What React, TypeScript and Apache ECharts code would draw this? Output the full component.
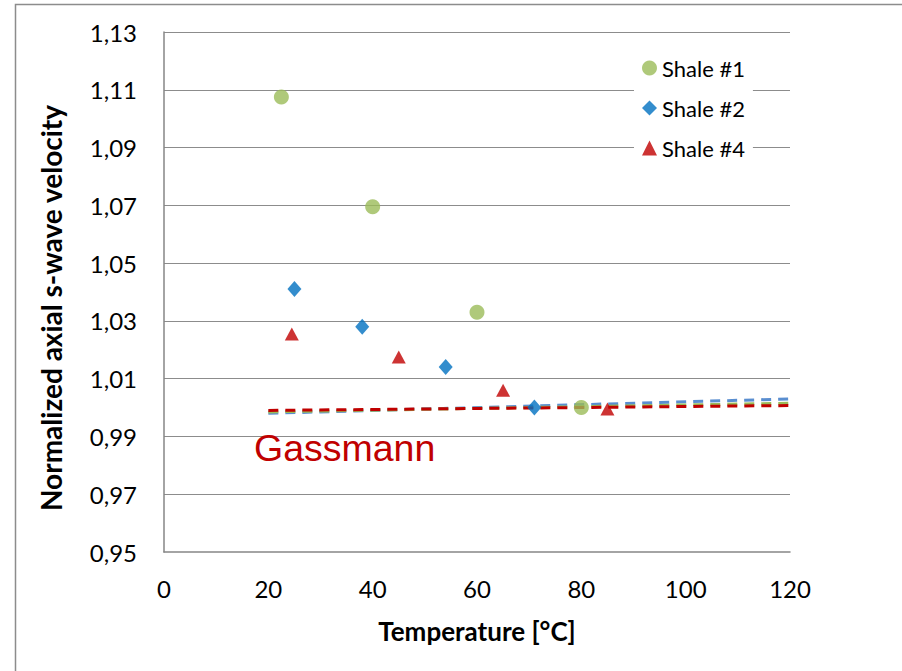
import React, { useEffect, useRef } from "react";
import * as echarts from "echarts";

const shale1X = [22.5, 40, 60, 80];
const shale1Y = [1.1075, 1.0695, 1.033, 1.0];
const shale2X = [25, 38, 54, 71];
const shale2Y = [1.041, 1.028, 1.014, 1.0];
const shale4X = [24.5, 45, 65, 85];
const shale4Y = [1.0255, 1.0175, 1.006, 0.9995];

const gassX = [20, 120];
const gassBlue = [0.998, 1.003];
const gassGreen = [0.9985, 1.0015];
const gassRed = [0.999, 1.0007];

const yTicks = [0.95, 0.97, 0.99, 1.01, 1.03, 1.05, 1.07, 1.09, 1.11, 1.13];

const zip = (xs: number[], ys: number[]) => xs.map((x, i) => [x, ys[i]]);

export default function App() {
  const ref = useRef<HTMLDivElement>(null);
  useEffect(() => {
    document.body.style.margin = "0";
    const chart = echarts.init(ref.current!, null, { renderer: "svg" });
    const font = "Lato, 'Open Sans', sans-serif";
    const dashed = (name: string, ys: number[], color: string, extra: any = {}) => ({
      name,
      type: "line",
      data: zip(gassX, ys),
      symbol: "none",
      lineStyle: { color, width: 3, type: [10, 7] },
      silent: true,
      z: 1,
      ...extra,
    });
    chart.setOption({
      animation: false,
      backgroundColor: "#fff",
      grid: { left: 164, top: 32, width: 626, height: 520 },
      graphic: [
        {
          type: "rect",
          shape: { x: 15.5, y: 4.5, width: 1000, height: 1000 },
          style: { fill: "none", stroke: "#8c8c8c", lineWidth: 1.5 },
          silent: true,
        },
        {
          type: "text",
          x: 254,
          y: 429,
          style: {
            text: "Gassmann",
            fontFamily: "'Liberation Sans', Arial, sans-serif",
            fontSize: 37.5,
            fill: "#c00000",
          },
          z: 10,
        },
      ],
      legend: {
        data: ["Shale #1", "Shale #2", "Shale #4"],
        orient: "vertical",
        left: 634,
        top: 48,
        padding: [8, 8, 8, 8],
        itemGap: 16,
        itemWidth: 15,
        itemHeight: 15,
        backgroundColor: "#fff",
        textStyle: { fontFamily: font, fontSize: 22, color: "#000", lineHeight: 24 },
      },
      xAxis: {
        type: "value",
        min: 0,
        max: 120,
        interval: 20,
        name: "Temperature [°C]",
        nameLocation: "middle",
        nameGap: 66,
        nameTextStyle: { fontFamily: font, fontSize: 26, fontWeight: "bold", color: "#000", verticalAlign: "top" },
        axisLine: { show: true, lineStyle: { color: "#868686", width: 1.5 } },
        axisTick: { show: false },
        splitLine: { show: false },
        axisLabel: { fontFamily: font, fontSize: 24, color: "#000", margin: 24 },
      },
      yAxis: {
        type: "value",
        min: 0.95,
        max: 1.13,
        interval: 0.01,
        name: "Normalized axial s-wave velocity",
        nameLocation: "middle",
        nameGap: 99,
        nameTextStyle: {
          fontFamily: font,
          fontSize: 28,
          fontWeight: "bold",
          color: "#000",
          padding: [0, 32, 0, 0],
        },
        axisLine: { show: true, lineStyle: { color: "#868686", width: 1.5 } },
        axisTick: { show: false },
        splitLine: { show: false },
        axisLabel: {
          fontFamily: font,
          fontSize: 24,
          color: "#000",
          margin: 27,
          formatter: (v: number) => {
            const k = Math.round(v * 100);
            return k % 2 === 1 ? (k / 100).toFixed(2).replace(".", ",") : "";
          },
        },
      },
      series: [
        dashed("g-blue", gassBlue, "#5a8ed0", {
          markLine: {
            silent: true,
            symbol: "none",
            label: { show: false },
            lineStyle: { color: "#8c8c8c", width: 1, type: "solid" },
            data: yTicks.slice(1).map((v) => ({ yAxis: v })),
            z: 0,
          },
        }),
        dashed("g-green", gassGreen, "#9bbb59"),
        dashed("g-red", gassRed, "#c00000"),
        {
          name: "Shale #1",
          type: "scatter",
          data: zip(shale1X, shale1Y),
          symbol: "circle",
          symbolSize: 15,
          itemStyle: { color: "#9bbb59" },
          z: 3,
        },
        {
          name: "Shale #2",
          type: "scatter",
          data: zip(shale2X, shale2Y),
          symbol: "diamond",
          symbolSize: [14, 16],
          itemStyle: { color: "#0070c0" },
          z: 3,
        },
        {
          name: "Shale #4",
          type: "scatter",
          data: zip(shale4X, shale4Y),
          symbol: "triangle",
          symbolSize: [14, 13],
          itemStyle: { color: "#c00000" },
          z: 3,
        },
      ],
    });
    return () => chart.dispose();
  }, []);
  return <div ref={ref} style={{ width: 902, height: 671 }} />;
}
